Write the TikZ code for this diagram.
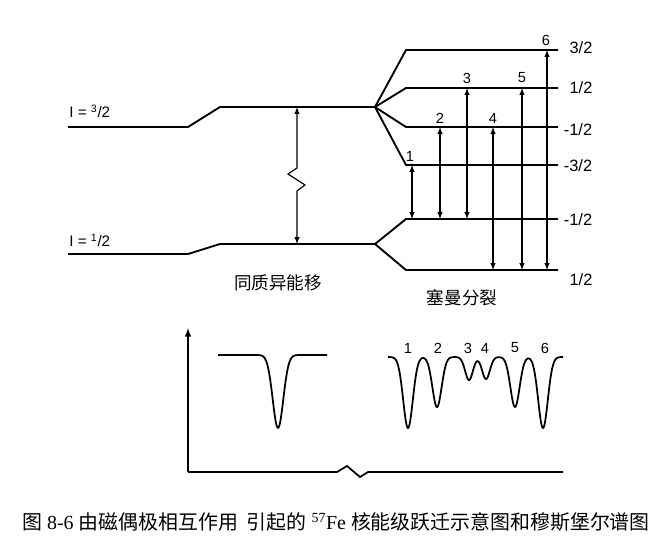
\documentclass[tikz,border=0pt]{standalone}
\usepackage{fontspec}
\setmainfont{Liberation Serif}
\setsansfont{Liberation Sans}
\newfontfamily\cjk{Noto Sans CJK SC}
\usetikzlibrary{arrows}
\tikzset{
  level/.style={line width=1.6pt},
  trans/.style={latex-latex, line width=1pt},
  mlabel/.style={font=\sffamily\fontsize{14}{16}\selectfont},
  tnum/.style={font=\sffamily\fontsize{12.5}{14}\selectfont, inner sep=1pt},
  spinlabel/.style={font=\sffamily\fontsize{13}{15}\selectfont, inner sep=1pt, anchor=west},
  cjklabel/.style={font=\cjk\fontsize{15}{17}\selectfont},
  spec/.style={line width=1.5pt},
}
\begin{document}
\begin{tikzpicture}[x=0.03cm,y=-0.03cm,
  declare function={gdip(\x,\c,\a,\w)=\a*exp(-min(((\x-\c)/\w)^2,15));}]
\useasboundingbox (0,0) rectangle (667,547);

% levels before splitting
\coordinate (e0) at (68,127);
\coordinate (e1) at (188,127);
\coordinate (e2) at (220,107);
\coordinate (eb) at (375,107);
\coordinate (g0) at (68,254);
\coordinate (g1) at (188,254);
\coordinate (g2) at (220,244);
\coordinate (gb) at (375,244);
\node[spinlabel] (spinE) at (68,111) {I = \textsuperscript{3}/2};
\node[spinlabel] (spinG) at (68,240) {I = \textsuperscript{1}/2};
\draw[level] (e0) -- (e1) -- (e2) -- (eb);
\draw[level] (g0) -- (g1) -- (g2) -- (gb);

% isomer shift
\coordinate (sh) at (297,0);
\coordinate (z1) at (297,168);
\coordinate (z2) at (288,174);
\coordinate (z3) at (305,185);
\coordinate (z4) at (297,191);
\draw[trans] (sh |- e2) -- (z1) -- (z2) -- (z3) -- (z4) -- (sh |- g2);
\node[cjklabel] (shift) at (278,283) {同质异能移};

% zeeman splitting
\coordinate (up3s) at (406,50);  \coordinate (up3e) at (558,50);
\coordinate (up1s) at (406,88);  \coordinate (up1e) at (558,88);
\coordinate (um1s) at (406,127); \coordinate (um1e) at (558,127);
\coordinate (um3s) at (406,165); \coordinate (um3e) at (558,165);
\coordinate (gm1s) at (406,219); \coordinate (gm1e) at (558,219);
\coordinate (gp1s) at (406,270); \coordinate (gp1e) at (558,270);
\draw[level] (eb) -- (up3s) -- (up3e);
\draw[level] (eb) -- (up1s) -- (up1e);
\draw[level] (eb) -- (um1s) -- (um1e);
\draw[level] (eb) -- (um3s) -- (um3e);
\draw[level] (gb) -- (gm1s) -- (gm1e);
\draw[level] (gb) -- (gp1s) -- (gp1e);
\node[mlabel] (mup3) at (581,48) {3/2};
\node[mlabel] (mup1) at (581,88) {1/2};
\node[mlabel] (mum1) at (578,130) {-1/2};
\node[mlabel] (mum3) at (578,166) {-3/2};
\node[mlabel] (mgm1) at (578,220) {-1/2};
\node[mlabel] (mgp1) at (581,280) {1/2};
\node[cjklabel] (zeeman) at (462,298) {塞曼分裂};

% transitions
\coordinate (t1) at (412,0);
\coordinate (t2) at (440,0);
\coordinate (t3) at (467,0);
\coordinate (t4) at (493,0);
\coordinate (t5) at (522,0);
\coordinate (t6) at (547,0);
\draw[trans] (t1 |- um3s) -- (t1 |- gm1s);
\draw[trans] (t2 |- um1s) -- (t2 |- gm1s);
\draw[trans] (t3 |- up1s) -- (t3 |- gm1s);
\draw[trans] (t4 |- um1s) -- (t4 |- gp1s);
\draw[trans] (t5 |- up1s) -- (t5 |- gp1s);
\draw[trans] (t6 |- up3s) -- (t6 |- gp1s);
\node[tnum] (n1) at (410,156) {1};
\node[tnum] (n2) at (440,118) {2};
\node[tnum] (n3) at (467,78) {3};
\node[tnum] (n4) at (493,118) {4};
\node[tnum] (n5) at (522,78) {5};
\node[tnum] (n6) at (546,40) {6};

% spectra
\coordinate (o) at (188,472);
\coordinate (ytop) at (188,328);
\coordinate (b1) at (337,472);
\coordinate (b2) at (347,466);
\coordinate (b3) at (360,477);
\coordinate (b4) at (368,472);
\coordinate (xend) at (563,472);
\draw[spec, -latex] (o) -- (ytop);
\draw[spec] (o) -- (b1) -- (b2) -- (b3) -- (b4) -- (xend);
\draw[spec] plot[domain=218:327, samples=120] (\x, {355+gdip(\x,278,73,7.5)});
\draw[spec] plot[domain=388:563, samples=300]
  (\x, {357+gdip(\x,408,71,6.8)+gdip(\x,437,50,6.5)+gdip(\x,469,23,5.5)
        +gdip(\x,486,22,5.5)+gdip(\x,515,50,6.5)+gdip(\x,543,71,6.8)});
\node[tnum] (p1) at (408,348) {1};
\node[tnum] (p2) at (438,348) {2};
\node[tnum] (p3) at (468,348) {3};
\node[tnum] (p4) at (485,348) {4};
\node[tnum] (p5) at (515,348) {5};
\node[tnum] (p6) at (545,348) {6};

\node[font=\fontsize{17}{19}\selectfont] (caption) at (336,522)
  {{\cjk 图} 8-6 {\cjk 由磁偶极相互作用\ \ 引起的}\ \textsuperscript{57}Fe\ {\cjk 核能级跃迁示意图和穆斯堡尔谱图}};
\end{tikzpicture}
\end{document}
